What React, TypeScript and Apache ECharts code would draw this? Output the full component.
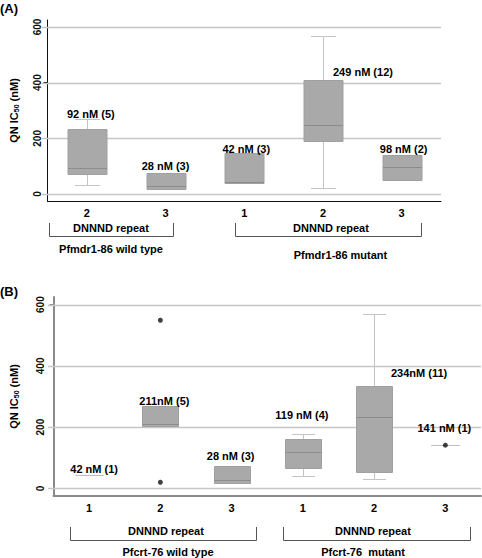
import React, { useEffect, useRef } from "react";
import * as echarts from "echarts";

// ---------- data: panel A (Pfmdr1-86) ----------
const catsA = ["2", "3", "1", "2", "3"];
const minA = [31, 19, 40, 20, 52];
const q1A = [71, 19, 40, 192, 52];
const medA = [92, 28, 42, 249, 98];
const q3A = [232, 74, 146, 411, 139];
const maxA = [271, 74, 146, 568, 139];
const labelsA = ["92 nM (5)", "28 nM (3)", "42 nM (3)", "249 nM (12)", "98 nM (2)"];
const labelAtA = [288, 100, 161, 440, 161];
const labelDxA = [4, 0, 2, 40, 2];

// ---------- data: panel B (Pfcrt-76) ----------
const catsB = ["1", "2", "3", "1", "2", "3"];
const minB = [42, 205, 18, 39, 30, 141];
const q1B = [42, 205, 18, 65, 54, 141];
const medB = [42, 211, 28, 119, 234, 141];
const q3B = [42, 269, 74, 162, 333, 141];
const maxB = [42, 269, 74, 179, 569, 141];
const pointsB = [
  [1, 549],
  [1, 20],
  [5, 141],
];
const labelsB = ["42 nM (1)", "211nM (5)", "28 nM (3)", "119 nM (4)", "234nM (11)", "141 nM (1)"];
const labelAtB = [63, 286, 106, 240, 377, 198];
const labelDxB = [5, 4, -1, -1, 45, -1];

const yTicks = [0, 200, 400, 600];
const yMin = -25;
const yMax = 625;

const FONT = '"Liberation Sans", Arial, sans-serif';

const GRIDS = [
  { left: 42, right: 41, top: 20, height: 181 },
  { left: 48, right: 1, top: 297, height: 199 },
];
const W = 482;

const crisp = (v: number) => Math.round(v) + 0.5;

function boxRender(params: any, api: any) {
  const x = api.value(0);
  const lo = api.value(1);
  const q1 = api.value(2);
  const md = api.value(3);
  const q3 = api.value(4);
  const hi = api.value(5);
  const cx = crisp(api.coord([x, md])[0]);
  const bw = Math.round(api.size([1, 0])[0] * 0.5);
  const capW = Math.round(bw * 0.65);
  const y = (v: number) => crisp(api.coord([x, v])[1]);
  const wStyle = { stroke: "#c4c4c4", lineWidth: 1 };
  const children: any[] = [];
  if (hi > q3) {
    children.push({ type: "line", shape: { x1: cx, y1: y(q3), x2: cx, y2: y(hi) }, style: wStyle });
    children.push({ type: "line", shape: { x1: cx - capW / 2, y1: y(hi), x2: cx + capW / 2, y2: y(hi) }, style: wStyle });
  }
  if (lo < q1) {
    children.push({ type: "line", shape: { x1: cx, y1: y(q1), x2: cx, y2: y(lo) }, style: wStyle });
    children.push({ type: "line", shape: { x1: cx - capW / 2, y1: y(lo), x2: cx + capW / 2, y2: y(lo) }, style: wStyle });
  }
  if (q3 > q1) {
    children.push({
      type: "rect",
      shape: { x: cx - bw / 2, y: y(q3), width: bw, height: y(q1) - y(q3) },
      style: { fill: "#a9a9a9", stroke: "#a0a0a0", lineWidth: 1 },
    });
    children.push({
      type: "line",
      shape: { x1: cx - bw / 2, y1: y(md), x2: cx + bw / 2, y2: y(md) },
      style: { stroke: "#8c8c8c", lineWidth: 1 },
    });
  } else {
    const w = bw * 0.8;
    children.push({
      type: "line",
      shape: { x1: cx - w / 2, y1: y(md), x2: cx + w / 2, y2: y(md) },
      style: { stroke: "#bdbdbd", lineWidth: 1 },
    });
  }
  return { type: "group", children };
}

function makeLabelRender(texts: string[], dx: number[]) {
  return (params: any, api: any) => {
    const p = api.coord([api.value(0), api.value(1)]);
    const i = params.dataIndex;
    return {
      type: "text",
      x: p[0] + dx[i],
      y: p[1],
      style: {
        text: texts[i],
        fontFamily: FONT,
        fontWeight: "bold",
        fontSize: 11,
        fill: "#000",
        align: "center",
        verticalAlign: "middle",
      },
    };
  };
}

function yAxisCfg(gridIndex: number, axisColor: string, axisWidth: number, nameGap: number, labelMargin: number) {
  return {
    type: "value",
    gridIndex,
    min: yMin,
    max: yMax,
    name: "{a|QN IC}{b|50}{a| (nM)}",
    nameLocation: "middle",
    nameGap,
    nameRotate: 90,
    nameTextStyle: {
      rich: {
        a: { fontFamily: FONT, fontWeight: "bold", fontSize: 11, color: "#000" },
        b: { fontFamily: FONT, fontWeight: "bold", fontSize: 7, color: "#000", padding: [5, 0, 0, 0] },
      },
    },
    axisLine: { show: true, lineStyle: { color: axisColor, width: axisWidth } },
    axisTick: { show: true, length: 4, customValues: yTicks, lineStyle: { color: axisColor } },
    axisLabel: {
      customValues: yTicks,
      rotate: 90,
      margin: labelMargin,
      fontFamily: FONT,
      fontWeight: "bold",
      fontSize: 10,
      color: "#111",
    },
    splitLine: { show: false },
  };
}

function xAxisCfg(gridIndex: number, cats: string[], axisColor: string, axisWidth: number) {
  return {
    type: "category",
    gridIndex,
    data: cats,
    boundaryGap: true,
    axisLine: { show: true, onZero: false, lineStyle: { color: axisColor, width: axisWidth } },
    axisTick: { show: false },
    axisLabel: { margin: 6, fontFamily: FONT, fontWeight: "bold", fontSize: 11, color: "#000" },
    splitLine: { show: false },
  };
}

const txt = (x: number, y: number, text: string, size = 11, align = "center") => ({
  type: "text",
  x,
  y,
  style: {
    text,
    fontFamily: FONT,
    fontWeight: "bold",
    fontSize: size,
    fill: "#000",
    align,
    verticalAlign: "middle",
  },
});

const bracket = (x1: number, x2: number, yTop: number, yBot: number) => ({
  type: "polyline",
  shape: {
    points: [
      [x1, yTop],
      [x1, yBot],
      [x2, yBot],
      [x2, yTop],
    ],
  },
  style: { stroke: "#555", lineWidth: 1, fill: "none" },
});

export default function App() {
  const ref = useRef<HTMLDivElement>(null);
  useEffect(() => {
    if (!ref.current) return;
    const chart = echarts.init(ref.current, undefined, { renderer: "svg" });
    const boxDataA = catsA.map((_, i) => [i, minA[i], q1A[i], medA[i], q3A[i], maxA[i]]);
    const boxDataB = catsB.map((_, i) => [i, minB[i], q1B[i], medB[i], q3B[i], maxB[i]]);
    const labelSeries = (idx: number, at: number[], texts: string[], dx: number[]) => ({
      type: "custom",
      xAxisIndex: idx,
      yAxisIndex: idx,
      z: 6,
      silent: true,
      renderItem: makeLabelRender(texts, dx),
      encode: { x: 0, y: 1 },
      data: at.map((v, i) => [i, v]),
    });
    const staticGraphics = [
      txt(0, 8, "(A)", 13, "left"),
      txt(0, 291, "(B)", 13, "left"),
      bracket(49.5, 173.5, 223, 236.5),
      bracket(235.5, 421.5, 223, 236.5),
      txt(111, 228, "DNNND repeat"),
      txt(331, 228, "DNNND repeat"),
      txt(111, 248.5, "Pfmdr1-86 wild type"),
      txt(340.5, 255, "Pfmdr1-86 mutant"),
      bracket(70.5, 256.5, 527, 540.5),
      bracket(283.5, 470.5, 527, 540.5),
      txt(166, 531, "DNNND repeat"),
      txt(373, 531, "DNNND repeat"),
      txt(168, 551.5, "Pfcrt-76 wild type"),
      txt(363, 551.5, "Pfcrt-76  mutant"),
    ];
    chart.setOption({
      animation: false,
      backgroundColor: "#fff",
      grid: GRIDS,
      xAxis: [xAxisCfg(0, catsA, "#111", 1), xAxisCfg(1, catsB, "#8a8a8a", 2)],
      yAxis: [yAxisCfg(0, "#111", 1, 28, 5), yAxisCfg(1, "#8a8a8a", 2, 34, 8)],
      series: [
        {
          type: "custom",
          xAxisIndex: 0,
          yAxisIndex: 0,
          z: 3,
          renderItem: boxRender,
          encode: { x: 0, y: [1, 2, 3, 4, 5] },
          data: boxDataA,
        },
        {
          type: "custom",
          xAxisIndex: 1,
          yAxisIndex: 1,
          z: 3,
          renderItem: boxRender,
          encode: { x: 0, y: [1, 2, 3, 4, 5] },
          data: boxDataB,
        },
        {
          type: "scatter",
          xAxisIndex: 1,
          yAxisIndex: 1,
          z: 4,
          symbolSize: 5,
          itemStyle: { color: "#111" },
          data: pointsB,
        },
        labelSeries(0, labelAtA, labelsA, labelDxA),
        labelSeries(1, labelAtB, labelsB, labelDxB),
      ],
      graphic: staticGraphics,
    });
    // horizontal gridlines at the tick values, positioned through the y axes' scales
    const gridLines: any[] = [];
    GRIDS.forEach((g, idx) => {
      yTicks.forEach((v) => {
        const py = chart.convertToPixel({ yAxisIndex: idx }, v) as number;
        const yy = crisp(py);
        gridLines.push({
          type: "line",
          z: 1,
          silent: true,
          shape: { x1: g.left, y1: yy, x2: W - g.right, y2: yy },
          style: { stroke: "#c6c6c6", lineWidth: 1.5 },
        });
      });
    });
    chart.setOption({ graphic: [...gridLines, ...staticGraphics] }, { replaceMerge: ["graphic"] });
    return () => chart.dispose();
  }, []);
  return (
    <div
      ref={ref}
      style={{ position: "absolute", left: 0, top: 0, width: 482, height: 558, background: "#fff" }}
    />
  );
}
